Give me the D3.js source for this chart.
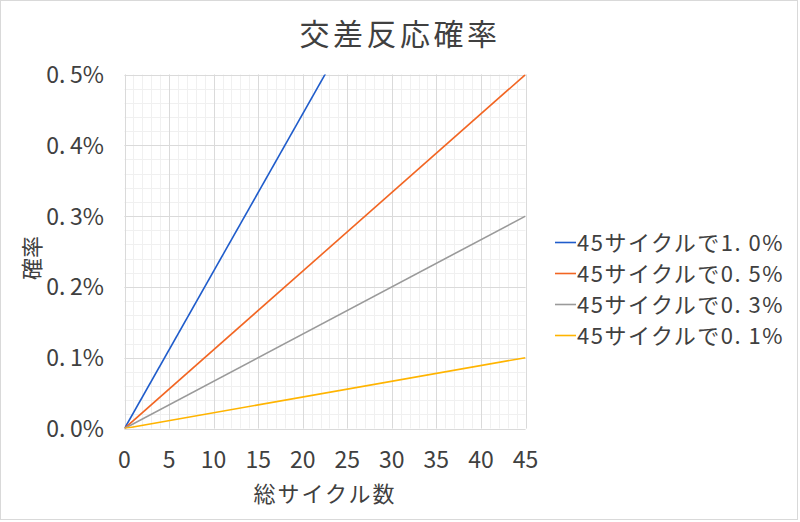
<!DOCTYPE html>
<html>
<head>
<meta charset="utf-8">
<script src="https://cdn.jsdelivr.net/npm/d3@7"></script>
<style>
  body { margin: 0; background: #fff; }
  text { font-family: "Noto Sans CJK JP", "Noto Sans", sans-serif; fill: #404040; }
</style>
</head>
<body>
<script>
// data
var seriesNames = ["45サイクルで1.0%", "45サイクルで0.5%", "45サイクルで0.3%", "45サイクルで0.1%"];
var seriesColors = ["#1f5ccb", "#f26522", "#9a9a9a", "#ffb400"];
var cycles = [0, 45];
var probAt45 = [1.0, 0.5, 0.3, 0.1];   // % at 45 cycles
var xTicks = [0, 5, 10, 15, 20, 25, 30, 35, 40, 45];
var yTicks = [0, 0.1, 0.2, 0.3, 0.4, 0.5];

var width = 800, height = 522;
var plot = { left: 124.5, right: 525.5, top: 74.5, bottom: 428.5 };

var svg = d3.select("body")
  .append("svg")
    .attr("width", width)
    .attr("height", height);

svg.append("rect")
  .attr("x", 0.5).attr("y", 0.5)
  .attr("width", width - 3).attr("height", height - 3)
  .attr("fill", "#fff")
  .attr("stroke", "#d9d9d9");

var x = d3.scaleLinear().domain([0, 45]).range([plot.left, plot.right]);
var y = d3.scaleLinear().domain([0, 0.5]).range([plot.bottom, plot.top]);

// minor grid
var grid = svg.append("g");
grid.selectAll(".xminor")
  .data(d3.range(0, 46, 1))
  .enter().append("line")
    .attr("x1", function(d) { return Math.round(x(d)) + 0.5; })
    .attr("x2", function(d) { return Math.round(x(d)) + 0.5; })
    .attr("y1", plot.top).attr("y2", plot.bottom)
    .attr("stroke", "#f0f0f0");
grid.selectAll(".yminor")
  .data(d3.range(0, 26, 1).map(function(i) { return i * 0.02; }))
  .enter().append("line")
    .attr("x1", plot.left).attr("x2", plot.right)
    .attr("y1", function(d) { return Math.round(y(d)) + 0.5; })
    .attr("y2", function(d) { return Math.round(y(d)) + 0.5; })
    .attr("stroke", "#f0f0f0");

// major grid
grid.selectAll(".xmajor")
  .data(xTicks)
  .enter().append("line")
    .attr("x1", function(d) { return Math.round(x(d)) + 0.5; })
    .attr("x2", function(d) { return Math.round(x(d)) + 0.5; })
    .attr("y1", plot.top).attr("y2", plot.bottom)
    .attr("stroke", "#dadada");
grid.selectAll(".ymajor")
  .data(yTicks)
  .enter().append("line")
    .attr("x1", plot.left).attr("x2", plot.right)
    .attr("y1", function(d) { return Math.round(y(d)) + 0.5; })
    .attr("y2", function(d) { return Math.round(y(d)) + 0.5; })
    .attr("stroke", "#dadada");

// axes labels
svg.append("g").selectAll("text")
  .data(xTicks)
  .enter().append("text")
    .attr("x", function(d) { return x(d); })
    .attr("y", 468)
    .attr("text-anchor", "middle")
    .attr("font-size", 23)
    .text(function(d) { return d; });

svg.append("g").selectAll("text")
  .data(yTicks)
  .enter().append("text")
    .attr("x", 104)
    .attr("y", function(d) { return y(d) + 8.5; })
    .attr("text-anchor", "end")
    .attr("font-size", 23)
    .attr("letter-spacing", 0)
    .text(function(d) { return d.toFixed(1).replace(".", ".\u2009") + "%"; });

// lines
svg.append("clipPath").attr("id", "clip")
  .append("rect")
    .attr("x", plot.left).attr("y", plot.top)
    .attr("width", plot.right - plot.left).attr("height", plot.bottom - plot.top);

var line = d3.line()
  .x(function(d) { return x(d[0]); })
  .y(function(d) { return y(d[1]); });

svg.append("g").attr("clip-path", "url(#clip)")
  .selectAll("path")
  .data(probAt45)
  .enter().append("path")
    .attr("d", function(p) { return line(cycles.map(function(c) { return [c, p * c / 45]; })); })
    .attr("fill", "none")
    .attr("stroke", function(d, i) { return seriesColors[i]; })
    .attr("stroke-width", 1.6);

// titles
svg.append("text")
  .attr("x", 400).attr("y", 45)
  .attr("text-anchor", "middle")
  .attr("font-size", 30)
  .attr("letter-spacing", 3.5)
  .text("交差反応確率");

svg.append("text")
  .attr("x", 325).attr("y", 502)
  .attr("text-anchor", "middle")
  .attr("font-size", 22)
  .attr("letter-spacing", 2)
  .text("総サイクル数");

svg.append("text")
  .attr("transform", "translate(40,258) rotate(-90)")
  .attr("text-anchor", "middle")
  .attr("font-size", 22)
  .text("確率");

// legend
var legend = svg.append("g").selectAll("g")
  .data(seriesNames)
  .enter().append("g")
    .attr("transform", function(d, i) { return "translate(555," + (242 + i * 31) + ")"; });

legend.append("line")
  .attr("x1", 0).attr("x2", 21)
  .attr("y1", 0.5).attr("y2", 0.5)
  .attr("stroke", function(d, i) { return seriesColors[i]; })
  .attr("stroke-width", 1.6);

legend.append("text")
  .attr("x", 22).attr("y", 8.5)
  .attr("font-size", 22)
  .attr("letter-spacing", 1.5)
  .text(function(d) { return d.replace(".", ". "); });
</script>
</body>
</html>
